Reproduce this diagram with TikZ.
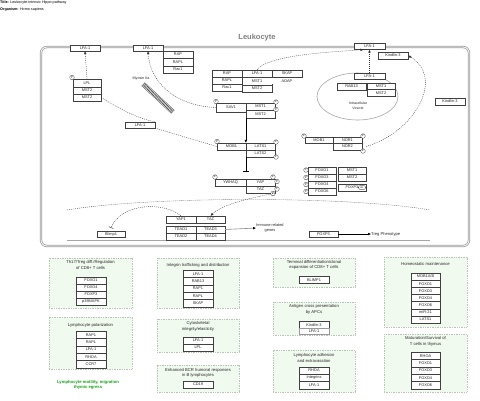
\documentclass[tikz,border=0pt]{standalone}
\usepackage{fontspec}
\setmainfont{Liberation Sans}
\usetikzlibrary{arrows.meta,calc,shapes.geometric}
\definecolor{pfill}{RGB}{241,250,239}
\definecolor{pborder}{RGB}{185,195,185}
\definecolor{mgreen}{RGB}{20,160,20}
\tikzset{
 gbox/.style={draw=black!75, line width=0.3pt, fill=white, inner sep=0pt, font=\fontsize{3.9}{4}\selectfont, text=black!85},
 pcirc/.style={circle, draw=black!80, line width=0.3pt, fill=white, inner sep=0pt, minimum size=4.6pt, font=\fontsize{2.7}{3}\selectfont},
 acell/.style={ellipse, draw=black!80, line width=0.3pt, fill=white, inner sep=0pt, minimum width=7.5pt, minimum height=4.6pt, font=\fontsize{2.6}{3}\selectfont},
 panel/.style={draw=pborder, dash pattern=on 1pt off 0.7pt, line width=0.4pt, fill=pfill, inner sep=0pt},
 ptitle/.style={font=\fontsize{4.2}{5.3}\selectfont, text=black!85, inner sep=0pt, align=center},
 hdr/.style={font=\fontsize{3.7}{4}\selectfont, inner sep=0pt},
 lbl/.style={inner sep=0pt, font=\fontsize{4.1}{4.8}\selectfont, align=center, text=black!85},
 dline/.style={dash pattern=on 1pt off 1pt, line width=0.35pt, black!80},
 darr/.style={dline, -{Latex[length=3pt,width=2.6pt]}},
 sarr/.style={line width=0.45pt, -{Latex[length=3pt,width=2.6pt]}},
 inhib/.style={line width=0.45pt, -{Bar[width=6pt, line width=0.6pt]}},
 dinh/.style={dline, -{Bar[width=5pt, line width=0.5pt]}},
 cellwall/.style={draw=gray!80, double=white, double distance=0.8pt, line width=0.75pt, rounded corners=6pt, inner sep=0pt},
}
\newcommand\gbx[7][]{\node[gbox,#1, minimum width={(#5-#3)*1pt}, minimum height={(#6-#4)*1pt}] (#2) at ({(#3+#5)/2},{(#4+#6)/2}) {#7};}
\newcommand\pcx[3]{\node[pcirc] (#1) at (#2,#3) {P};}
\newcommand\pnl[5]{\node[panel, minimum width={(#4-#2)*1pt}, minimum height={(#5-#3)*1pt}] (#1) at ({(#2+#4)/2},{(#3+#5)/2}) {};}
\begin{document}
\begin{tikzpicture}[x=1pt,y=-1pt]
\useasboundingbox (0,0) rectangle (480,400);
% header
\node[anchor=west, hdr] (title) at (0,3) {\textbf{Title:} Leukocyte-intrinsic Hippo pathway};
\node[anchor=west, hdr] (org) at (0,9.5) {\textbf{Organism:} Homo sapiens};
\node[font=\bfseries\fontsize{7.5}{8}\selectfont, text=gray, inner sep=0pt] (leuk) at (257,38) {Leukocyte};
% cell
\node[cellwall, minimum width=428pt, minimum height=199pt] (cellbox) at (255,146.5) {};
% nucleus
\coordinate (nucL) at (67,210);
\coordinate (nucR) at (430,210);
\coordinate (nbL) at (67,240);
\coordinate (nbR) at (430,240);
\draw[dline, black!75] (nucL) .. controls (150,196) and (350,196) .. (nucR);
\draw[gray!70, line width=0.5pt] (nbL) -- (nbR);
% vesicle
\node[ellipse, draw=gray!70, line width=0.6pt, fill=white, minimum width=81pt, minimum height=47pt, inner sep=0pt] (ves) at (357.5,96.5) {};
\node[lbl, font=\fontsize{3.5}{4.6}\selectfont] (vestext) at (358,105.5) {Intracellular\\Vesicle};
% membrane boxes
\gbx{lfaA}{70}{45}{100}{51}{LFA-1}
\gbx{lfaB}{133}{45}{163}{51}{LFA-1}
\gbx{rapA}{163}{51}{193}{58}{RAP}
\gbx{raplA}{163}{58}{193}{66}{RAPL}
\gbx{racA}{163}{66}{193}{73}{Rac1}
\gbx{lfaC}{354}{43}{385}{49.5}{LFA-1}
\gbx{kinA}{378}{52}{408}{59}{Kindlin-3}
\gbx{kinB}{435}{98}{465}{105}{Kindlin-3}
% central complex
\gbx{rapB}{212}{70}{242}{77}{RAP}
\gbx{raplB}{212}{77}{242}{84}{RAPL}
\gbx{racB}{212}{84}{242}{91}{Rac1}
\gbx{lfaD}{242}{70}{272}{77}{LFA-1}
\gbx{mst1A}{242}{77}{272}{85}{MST1}
\gbx[line width=0.55pt]{mst2A}{242}{85}{272}{92}{MST2}
\gbx{skap}{272}{70}{302}{77}{SKAP}
\gbx[draw=none]{adap}{272}{77.5}{302}{84}{ADAP}
% vesicle content
\gbx{lfaV}{354}{73}{385}{79}{LFA-1}
\gbx{rab13}{337}{83}{366}{90}{RAB13}
\gbx{mst1V}{367}{83}{395}{89.5}{MST1}
\gbx{mst2V}{367}{89.5}{395}{96}{MST2}
% LPL complex
\gbx{lplA}{73}{79}{101}{87}{LPL}
\gbx{lplB}{73}{87}{101}{94}{MST2}
\gbx{lplC}{73}{94}{101}{101}{MST2}
\pcx{pLpl}{72}{77.5}
\gbx{lfaM}{125}{122}{155}{128}{LFA-1}
% Myosin IIa
\node[lbl, font=\fontsize{3.7}{4}\selectfont] (myo) at (141,78.5) {Myosin IIa};
\foreach \k/\c in {-2/black!70,-1/black,0/black!70,1/black,2/black!70}
  \draw[\c, line width=0.35pt] ($(143,84)+\k*(0.75,-0.8)$) -- ($(173,112)+\k*(0.75,-0.8)$);
% SAV1 / MST
\gbx{sav1}{216}{103}{246}{112}{SAV1}
\gbx{mst1B}{246}{103}{275}{110}{MST1}
\gbx{mst2B}{246}{110}{275}{118}{MST2}
\pcx{pSav}{216}{101.5}
\pcx{pMa}{276}{102}
\pcx{pMb}{276}{109.5}
% MOB1 / LATS
\gbx{mob1B}{217}{143}{246}{150}{MOB1}
\gbx{lats1}{246}{143}{275}{150}{LATS1}
\gbx{lats2}{246}{150}{275}{157}{LATS2}
\pcx{pMob}{217}{141.5}
\pcx{pLa}{276}{142}
\pcx{pLb}{276}{157}
% YWHAQ / YAP / TAZ
\gbx{ywhaq}{215}{179}{246}{186}{YWHAQ}
\gbx{yapA}{246}{179}{275}{186}{YAP}
\gbx{tazA}{246}{186}{275}{193}{TAZ}
\pcx{pYw}{215}{177}
\pcx{pYa}{273}{177}
\pcx{pYb}{277}{181.5}
\pcx{pTa}{277}{189}
\pcx{pTb}{273}{193.5}
% MOB1 / NDR
\gbx{mob1C}{305}{137}{333}{143}{MOB1}
\gbx{ndr1}{333}{137}{362}{143}{NDR1}
\gbx{ndr2}{333}{143}{362}{150}{NDR2}
\pcx{pMc}{304}{136}
\pcx{pNa}{363}{136}
\pcx{pNb}{363}{151}
% FOXO
\gbx{foxo1}{308}{167}{336}{174}{FOXO1}
\gbx{foxo3}{308}{174}{336}{181}{FOXO3}
\gbx{foxo4}{308}{181}{336}{188}{FOXO4}
\gbx{foxo6}{308}{188}{336}{195}{FOXO6}
\pcx{pF1}{306}{170}
\pcx{pF3}{306}{177.5}
\pcx{pF4}{306}{184.5}
\pcx{pF6}{306}{191.5}
\gbx{mst1F}{338}{167}{366}{174}{MST1}
\gbx{mst2F}{338}{174}{366}{181}{MST2}
\gbx{foxp3F}{338}{184}{366}{191}{FOXP3\hspace{7pt}}
\node[acell] (ac) at (362,187.5) {Ac};
% nucleus content
\gbx{yap1N}{166}{216}{196}{223}{YAP1}
\gbx{tazN}{196}{216}{225}{223}{TAZ}
\gbx{tead1}{166}{226}{196}{233}{TEAD1}
\gbx{tead3}{196}{226}{225}{233}{TEAD3}
\gbx{tead2}{166}{233}{196}{240}{TEAD2}
\gbx{tead4}{196}{233}{225}{240}{TEAD4}
\gbx{blimp}{97}{231}{125}{237}{Blimp1}
\gbx{foxp3N}{309}{231}{338}{237}{FOXP3}
\node[lbl, font=\fontsize{3.9}{4.6}\selectfont] (genes) at (270,228) {Immune-related\\genes};
\node[lbl, anchor=west] (treg) at (371,234) {Treg Phenotype};
% connectors
\draw[darr] (lplA.north) -- (lfaA.south);
\draw[dline] (lplC.east) .. controls (115,106) and (135,118) .. (lfaM.north east);
\draw[dline] (lfaM.south east) -- (mob1B.west);
\draw[darr] (sav1.west) .. controls (175,106) and (150,82) .. (lfaB.south);
\draw[darr] (lfaD.north) .. controls (268,55) and (330,52) .. ([xshift=-6pt]lfaC.south);
\draw[darr] (lfaV.north) -- (lfaC.south);
\draw[darr] ([xshift=4pt]ndr2.east) .. controls (415,132) and (445,78) .. (kinA.east);
\draw[sarr] (mst2B.south west) -- (lats1.north west);
\draw[inhib] (lats2.south west) -- ([yshift=7pt]yapA.north west);
\draw[darr] (tazA.south east) .. controls (245,199) and (222,205) .. (tazN.north);
\draw[dinh] (yap1N.north) .. controls (165,202) and (122,202) .. ([yshift=3pt]blimp.north);
\draw[line width=0.6pt, black!45, -{Latex[length=3pt,width=2.6pt,fill=black,color=black]}] (tead3.east) -- (genes.west);
\draw[sarr, line width=0.35pt] (foxp3N.east) -- (treg.west);
% ---------------- panels ----------------
\pnl{pA}{49}{258}{132}{308}
\node[ptitle] (tA) at (90.5,265) {Th17/Treg diff./Regulation\\of CD8+ T cells};
\gbx{aA1}{76}{277}{106}{284}{FOXO1}
\gbx{aA2}{76}{284}{106}{291}{FOXO4}
\gbx{aA3}{76}{291}{106}{298}{FOXP3}
\gbx{aA4}{76}{298}{106}{305}{p38MAPK}
\pnl{pB}{49}{317}{132}{369}
\node[ptitle] (tB) at (90.5,325) {Lymphocyte polarization};
\gbx{bB1}{76}{331}{106}{338.4}{RAP1}
\gbx{bB2}{76}{338.4}{106}{345.8}{RAPL}
\gbx{bB3}{76}{345.8}{106}{353.2}{LFA-1}
\gbx{bB4}{76}{353.2}{106}{360.6}{RHOA}
\gbx{bB5}{76}{360.6}{106}{368}{CCR7}
\node[ptitle, font=\bfseries\fontsize{4.2}{5.4}\selectfont, text=mgreen] (tGreen) at (88,385) {Lymphocyte motility, migration\\thymic egress};
\pnl{pC}{157}{258}{239}{308}
\node[ptitle] (tC) at (198,265.5) {Integrin trafficking and distribution};
\gbx{cC1}{183}{270}{213}{277.4}{LFA-1}
\gbx{cC2}{183}{277.4}{213}{284.8}{RAB13}
\gbx{cC3}{183}{284.8}{213}{292.2}{RAP1}
\gbx{cC4}{183}{292.2}{213}{299.6}{RAPL}
\gbx{cC5}{183}{299.6}{213}{307}{SKAP}
\pnl{pD}{157}{319}{239}{352}
\node[ptitle] (tD) at (198,326.5) {Cytoskeletal\\integrity/elasticity};
\gbx{dD1}{183}{337}{213}{344}{LFA-1}
\gbx{dD2}{183}{344}{213}{351}{LPL}
\pnl{pE}{157}{365}{239}{392}
\node[ptitle] (tE) at (198,373) {Enhanced BCR humoral responses\\in B lymphocytes};
\gbx{eE1}{183}{381}{213}{388}{CD19}
\pnl{pF}{273}{258}{355}{287}
\node[ptitle] (tF) at (314,265) {Terminal differentiation/clonal\\expansion of CD8+ T cells};
\gbx{fF1}{299}{276.5}{329}{283.5}{BLIMP1}
\pnl{pG}{273}{302}{355}{335}
\node[ptitle] (tG) at (314,309.5) {Antigen cross presentation\\by APCs};
\gbx{gG1}{299}{321.5}{329}{328}{Kindlin-3}
\gbx[draw=black!40]{gG2}{299}{328}{329}{334}{LFA-1}
\pnl{pH}{273}{350}{355}{392}
\node[ptitle] (tH) at (314,358) {Lymphocyte adhesion\\and extravasation};
\gbx{hH1}{299}{367}{329}{374.3}{RHOA}
\gbx{hH2}{299}{374.3}{329}{381.6}{Integrins}
\gbx{hH3}{299}{381.6}{329}{389}{LFA-1}
\pnl{pI}{384}{257}{467}{327}
\node[ptitle] (tI) at (425.5,264) {Homeostatic maintenance};
\gbx{iI1}{411}{273}{440}{280.1}{MOB1A/B}
\gbx{iI2}{411}{280.1}{440}{287.3}{FOXO1}
\gbx{iI3}{411}{287.3}{440}{294.4}{FOXO3}
\gbx{iI4}{411}{294.4}{440}{301.6}{FOXO4}
\gbx{iI5}{411}{301.6}{440}{308.7}{FOXO6}
\gbx{iI6}{411}{308.7}{440}{315.9}{miR-21}
\gbx{iI7}{411}{315.9}{440}{323}{LATS1}
\pnl{pJ}{384}{334}{467}{392}
\node[ptitle] (tJ) at (425.5,341.5) {Maturation/Survival of\\T cells in thymus};
\gbx{jJ1}{411}{352}{440}{359.4}{RHOA}
\gbx{jJ2}{411}{359.4}{440}{366.8}{FOXO1}
\gbx{jJ3}{411}{366.8}{440}{374.2}{FOXO3}
\gbx{jJ4}{411}{374.2}{440}{381.6}{FOXO4}
\gbx{jJ5}{411}{381.6}{440}{389}{FOXO6}
\end{tikzpicture}
\end{document}
